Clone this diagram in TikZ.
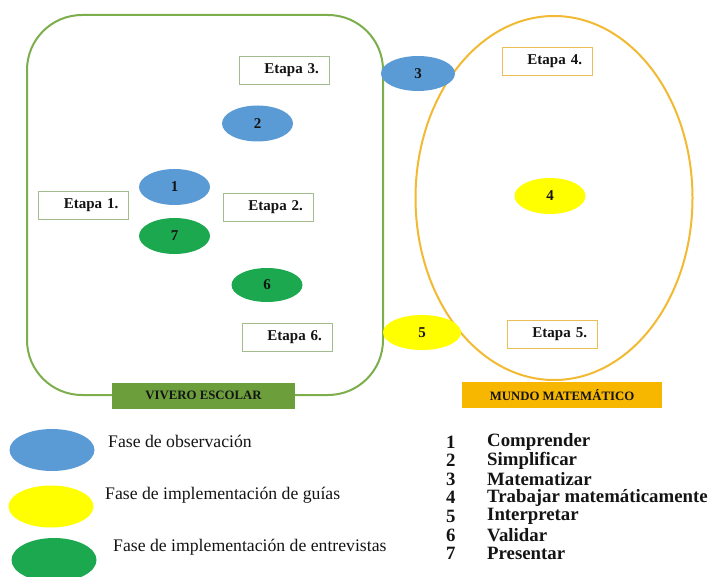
\documentclass[tikz,border=0pt]{standalone}
\usepackage{fontspec}
\setmainfont{Liberation Serif}
\usetikzlibrary{shapes.geometric}
\definecolor{obsblue}{HTML}{5B9BD5}
\definecolor{guiyellow}{HTML}{FFFF00}
\definecolor{entgreen}{HTML}{1BA84E}
\definecolor{viveroline}{HTML}{7CAE4C}
\definecolor{viverofill}{HTML}{6C9F3C}
\definecolor{mundoline}{HTML}{F2B932}
\definecolor{mundofill}{HTML}{F7B700}
\definecolor{boxgreen}{HTML}{A3BC8E}
\definecolor{boxorange}{HTML}{EDBE55}
\definecolor{ink}{HTML}{141414}
\tikzset{
  phase/.style={ellipse, inner sep=0pt, minimum width=71pt, minimum height=36pt,
    font=\fontsize{15}{15}\selectfont\bfseries, text=ink},
  obs/.style={phase, fill=obsblue},
  gui/.style={phase, fill=guiyellow},
  ent/.style={phase, fill=entgreen},
  stagebox/.style={draw, line width=0.8pt, fill=white, text width=70pt, align=right,
    inner xsep=10pt, inner ysep=0pt, minimum height=28pt,
    font=\fontsize{15}{15}\selectfont\bfseries, text=ink},
  stageL/.style={stagebox, draw=boxgreen},
  stageR/.style={stagebox, draw=boxorange},
  tag/.style={inner sep=0pt, minimum height=26pt, text=ink,
    font=\fontsize{12.8}{12.8}\selectfont\bfseries},
  legendkey/.style={ellipse, inner sep=0pt, minimum width=85pt, minimum height=42pt},
  legendtext/.style={anchor=west, inner sep=0pt, font=\fontsize{17.7}{17.7}\selectfont, text=ink},
  listnum/.style={anchor=west, inner sep=0pt, font=\fontsize{18.8}{18.8}\selectfont\bfseries, text=ink},
}
\begin{document}
\begin{tikzpicture}[x=1pt, y=-1pt]
\useasboundingbox (0,0) rectangle (714,577);

% the two worlds
\draw[viveroline, line width=2pt, rounded corners=55pt] (27,15) rectangle (383,395);
\node[ellipse, draw=mundoline, line width=2pt, minimum width=277pt, minimum height=364pt, inner sep=0pt] (mundo) at (554,198) {};

% titles of the two worlds
\node[tag, fill=viverofill, minimum width=183pt] (vivero) at (203.5,395.5) {VIVERO ESCOLAR};
\node[tag, fill=mundofill, minimum width=200pt] (mundotag) at (562,395) {MUNDO MATEMÁTICO};

% stages
\node[stageL] (e1) at (83.5,205.5) {Etapa 1.};
\node[stageL] (e2) at (268,207) {Etapa 2.};
\node[stageL] (e3) at (284,70) {Etapa 3.};
\node[stageL] (e6) at (287,337.5) {Etapa 6.};
\node[stageR] (e4) at (547,61.5) {Etapa 4.};
\node[stageR] (e5) at (552,334) {Etapa 5.};

% phases of the modelling cycle
\node[obs] (p1) at (174.5,187) {1};
\node[obs] (p2) at (257.5,123.5) {2};
\node[obs, minimum width=74pt, minimum height=35pt] (p3) at (418,73.5) {3};
\node[gui] (p4) at (550,196) {4};
\node[gui, minimum width=78pt, minimum height=35pt] (p5) at (422,332.5) {5};
\node[ent, minimum height=34pt] (p6) at (267,285) {6};
\node[ent] (p7) at (174.5,236) {7};

% legend of colours
\node[legendkey, fill=obsblue] (k1) at (52,450) {};
\node[legendkey, fill=guiyellow] (k2) at (51,506.5) {};
\node[legendkey, fill=entgreen, minimum height=44pt] (k3) at (54,560) {};
\node[legendtext] (t1) at (108,441) {Fase de observación};
\node[legendtext] (t2) at (105,495) {Fase de implementación de guías};
\node[legendtext] (t3) at (113,547) {Fase de implementación de entrevistas};

% legend of numbers
\foreach \n/\word [count=\i from 0] in {1/Comprender, 2/Simplificar, 3/Matematizar,
    4/Trabajar matemáticamente, 5/Interpretar, 6/Validar, 7/Presentar}{
  \node[listnum] (n\n) at (446,442+18.6*\i) {\n};
  \node[listnum] (w\n) at (487,442+18.6*\i) {\word};
}
\end{tikzpicture}
\end{document}
